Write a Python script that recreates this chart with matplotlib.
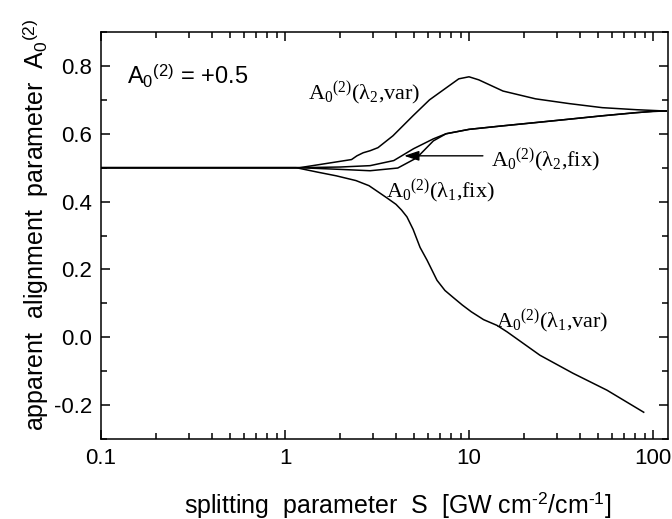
import matplotlib

matplotlib.use("Agg")
import matplotlib.pyplot as plt
from matplotlib.ticker import LogLocator, MultipleLocator, NullFormatter

plt.rcParams["font.family"] = "Liberation Sans"
plt.rcParams["axes.unicode_minus"] = False
plt.rcParams["mathtext.fontset"] = "custom"
plt.rcParams["mathtext.rm"] = "Liberation Serif"
plt.rcParams["mathtext.sf"] = "Liberation Sans"
plt.rcParams["mathtext.it"] = "Liberation Serif:italic"

# --- curves (S in GW cm^-2/cm^-1, A0^(2)) ---
s_l2_var = [0.1, 1.2, 2.3, 2.46, 2.66, 2.9, 3.2, 3.86, 4.96, 6.1, 7.5, 8.8,
            10.0, 11.3, 15.3, 23.0, 35.0, 53.0, 81.0, 118.0]
a_l2_var = [0.5, 0.5, 0.524, 0.535, 0.544, 0.55, 0.559, 0.594, 0.653, 0.70,
            0.735, 0.762, 0.768, 0.759, 0.726, 0.703, 0.689, 0.677, 0.671,
            0.667]

s_l2_fix = [0.1, 1.2, 2.0, 2.9, 3.9, 5.0, 6.4, 7.5, 10.0, 15.0, 23.0, 35.0,
            53.0, 80.0, 100.0, 118.0]
a_l2_fix = [0.5, 0.5, 0.502, 0.506, 0.521, 0.556, 0.585, 0.6, 0.613, 0.623,
            0.633, 0.643, 0.653, 0.662, 0.666, 0.667]

s_l1_fix = [0.1, 1.2, 2.0, 2.9, 4.1, 5.2, 6.4, 7.5, 10.0, 15.0, 23.0, 35.0,
            53.0, 80.0, 100.0, 118.0]
a_l1_fix = [0.5, 0.5, 0.495, 0.491, 0.499, 0.529, 0.579, 0.6, 0.613, 0.623,
            0.633, 0.643, 0.653, 0.662, 0.666, 0.667]

s_l1_var = [0.1, 1.15, 1.5, 1.9, 2.43, 2.86, 3.24, 3.6, 4.01, 4.3, 4.6, 4.97,
            5.42, 5.92, 6.7, 7.4, 8.18, 9.2, 10.3, 12.0, 14.2, 16.1, 24.3,
            36.7, 56.2, 89.0]
a_l1_var = [0.5, 0.5, 0.487, 0.476, 0.462, 0.447, 0.427, 0.41, 0.392, 0.375,
            0.355, 0.318, 0.265, 0.227, 0.168, 0.138, 0.118, 0.095, 0.075,
            0.052, 0.035, 0.016, -0.053, -0.106, -0.156, -0.221]

x_ticks = [0.1, 1, 10, 100]
x_tick_labels = ["0.1", "1", "10", "100"]
y_ticks = [-0.2, 0.0, 0.2, 0.4, 0.6, 0.8]
y_tick_labels = ["-0.2", "0.0", "0.2", "0.4", "0.6", "0.8"]

fig = plt.figure(figsize=(6.72, 5.19), dpi=100)
ax = fig.add_axes([0.1503, 0.1541, 0.8437, 0.7842])

for s, a in [(s_l2_var, a_l2_var), (s_l2_fix, a_l2_fix),
             (s_l1_fix, a_l1_fix), (s_l1_var, a_l1_var)]:
    ax.plot(s, a, color="black", lw=1.1)

ax.set_xscale("log")
ax.set_xlim(0.1, 120.6)
ax.set_ylim(-0.3, 0.9)
ax.set_xticks(x_ticks, x_tick_labels)
ax.xaxis.set_minor_locator(LogLocator(base=10, subs=range(2, 10)))
ax.xaxis.set_minor_formatter(NullFormatter())
ax.set_yticks(y_ticks, y_tick_labels)
ax.yaxis.set_minor_locator(MultipleLocator(0.1))

for sp in ax.spines.values():
    sp.set_linewidth(1.1)
ax.tick_params(which="both", direction="in", top=True, right=True,
               width=1.1, labelsize=16, pad=6.5)
ax.tick_params(which="major", length=6.5)
ax.tick_params(which="minor", length=4)

# axis titles
fig.text(0.5915, 0.011,
         "splitting  parameter  S  [GW cm$^\\mathsf{\u20102}$/cm$^\\mathsf{\u20101}$]",
         ha="center", va="baseline", fontsize=18)
fig.text(0.0655, 0.5665,
         r"apparent  alignment  parameter  A$_\mathsf{0}$$^\mathsf{(2)}$",
         rotation=90, rotation_mode="anchor", ha="center", va="baseline",
         fontsize=18)

ax.text(0.046, 0.870, r"A$_\mathsf{0}$$^\mathsf{(2)}$ = +0.5",
        transform=ax.transAxes, ha="left", va="baseline", fontsize=17)

# curve labels
serif = dict(transform=ax.transAxes, ha="left", va="baseline",
             fontsize=16, family="Liberation Serif")
ax.text(0.365, 0.833, r"A$_\mathrm{0}$$^\mathrm{(2)}$(λ$_\mathrm{2}$,var)", **serif)
ax.text(0.688, 0.668, r"A$_\mathrm{0}$$^\mathrm{(2)}$(λ$_\mathrm{2}$,fix)", **serif)
ax.text(0.503, 0.592, r"A$_\mathrm{0}$$^\mathrm{(2)}$(λ$_\mathrm{1}$,fix)", **serif)
ax.text(0.697, 0.273, r"A$_\mathrm{0}$$^\mathrm{(2)}$(λ$_\mathrm{1}$,var)", **serif)

ax.annotate("", xy=(4.44, 0.535), xytext=(11.9, 0.535),
            arrowprops=dict(arrowstyle="-|>,head_length=0.6,head_width=0.2",
                            color="black", lw=1.0, mutation_scale=15,
                            shrinkA=0, shrinkB=0))

fig.savefig("out.png", dpi=100, facecolor="white")
